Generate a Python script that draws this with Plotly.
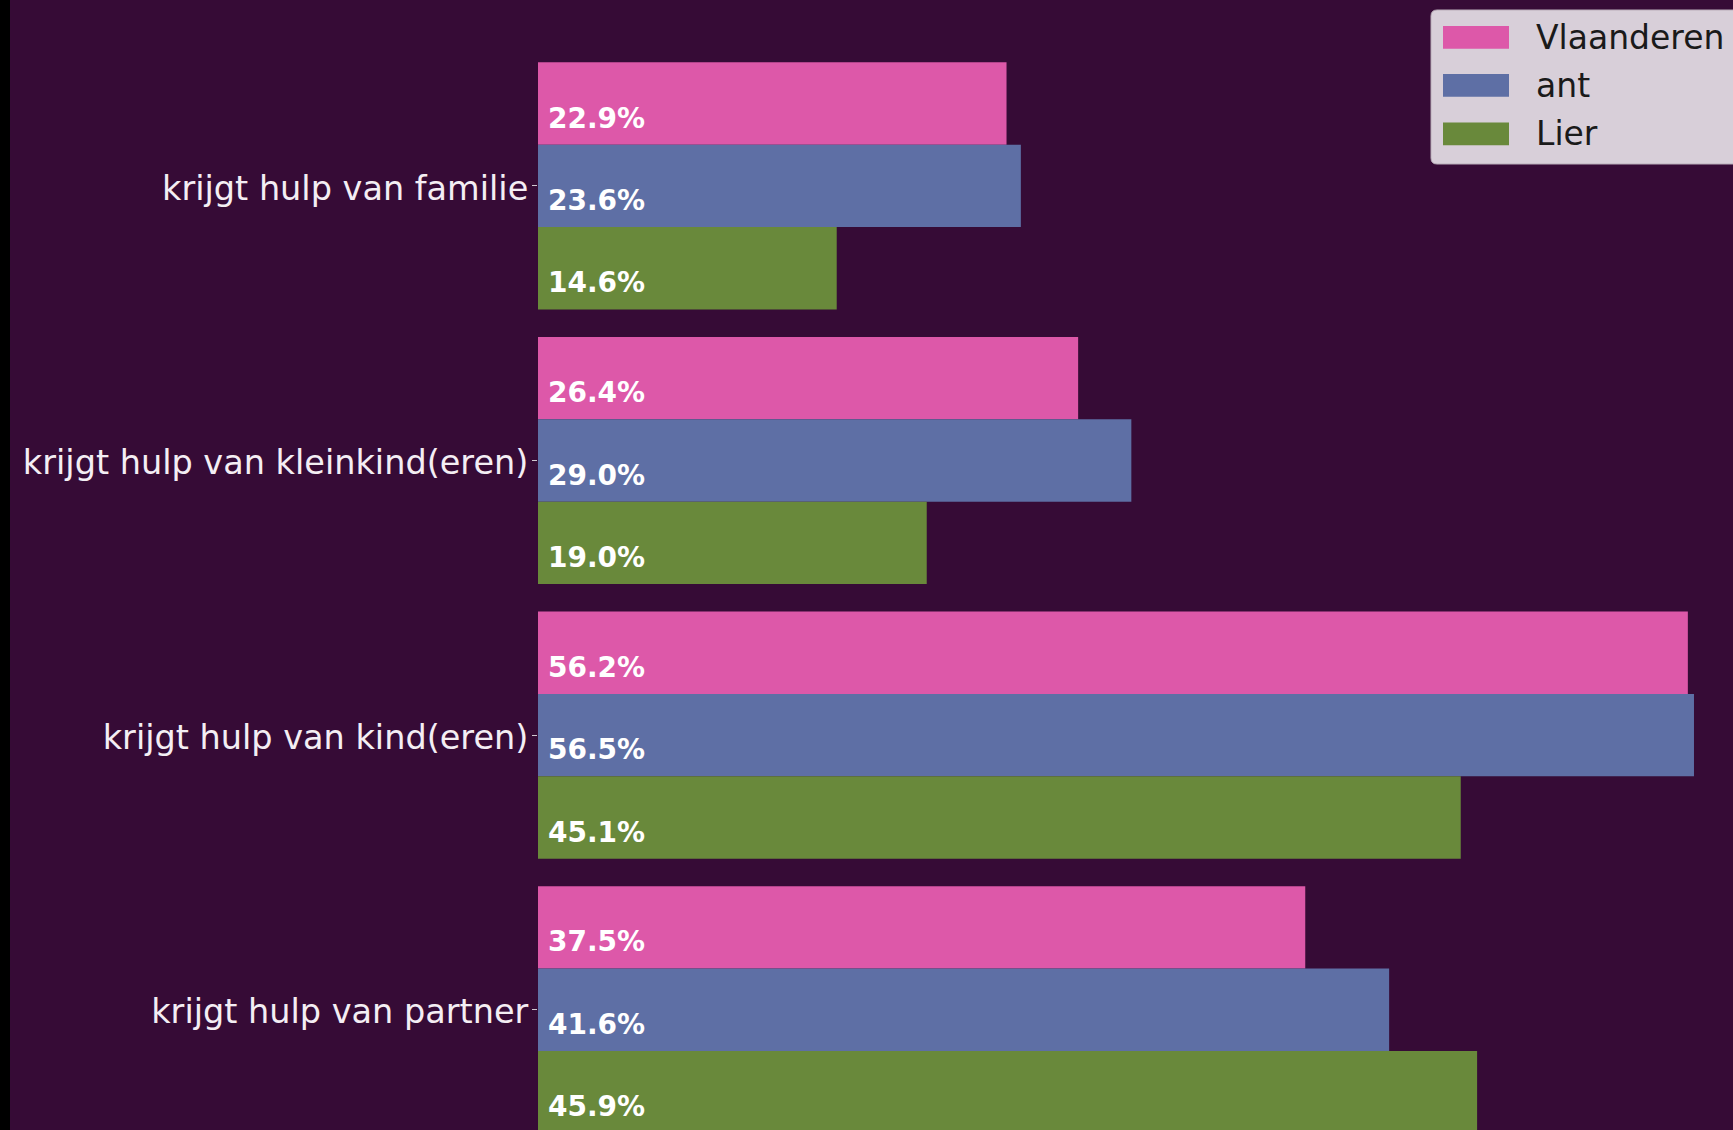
import plotly.graph_objects as go

categories = ["krijgt hulp van familie", "krijgt hulp van kleinkind(eren)",
              "krijgt hulp van kind(eren)", "krijgt hulp van partner"]
series_names = ["Vlaanderen", "ant", "Lier"]
vlaanderen = [22.9, 26.4, 56.2, 37.5]
ant = [23.6, 29.0, 56.5, 41.6]
lier = [14.6, 19.0, 45.1, 45.9]
colors = ["#dd58a9", "#5e6fa5", "#69893b"]

W, H = 1733, 1130
L = 538
BG = "#360b36"

fig = go.Figure()
for name, vals, col in zip(series_names, [vlaanderen, ant, lier], colors):
    fig.add_trace(go.Bar(y=categories, x=vals, name=name, orientation="h",
                         marker=dict(color=col, line=dict(width=0)),
                         showlegend=False, hoverinfo="x+y"))

# bar value labels
annotations = []
for k, vals in enumerate([vlaanderen, ant, lier]):
    for i, v in enumerate(vals):
        annotations.append(dict(x=0, y=i + (k - 1) * 0.3, xref="x", yref="y",
                                text=f"{v:.1f}%", showarrow=False,
                                xanchor="left", yanchor="middle",
                                xshift=8, yshift=-14.5,
                                font=dict(family="DejaVu Sans", size=28,
                                          color="white", weight="bold")))

def px(xpx):
    return (xpx - L) / (W - L)

def py(ypx):
    return 1 - ypx / H

shapes = []
# left black strip
shapes.append(dict(type="rect", xref="paper", yref="paper",
                   x0=px(-5), x1=px(10), y0=py(-5), y1=py(H + 5),
                   fillcolor="black", line=dict(width=0), layer="above"))

# custom legend box (rounded)
x0, x1, y0, y1 = 1431, 1760, 10, 164
r = 6
rx, ry = r / (W - L), r / H
X0, X1, Y0, Y1 = px(x0), px(x1), py(y0), py(y1)
path = (f"M {X0+rx},{Y0} L {X1-rx},{Y0} Q {X1},{Y0} {X1},{Y0-ry} "
        f"L {X1},{Y1+ry} Q {X1},{Y1} {X1-rx},{Y1} L {X0+rx},{Y1} "
        f"Q {X0},{Y1} {X0},{Y1+ry} L {X0},{Y0-ry} Q {X0},{Y0} {X0+rx},{Y0} Z")
shapes.append(dict(type="path", xref="paper", yref="paper", path=path,
                   fillcolor="#d8cfd9", line=dict(color="#b9aeb9", width=1),
                   layer="above"))
sw_tops = [26, 74, 122.5]
for name, col, t in zip(series_names, colors, sw_tops):
    shapes.append(dict(type="rect", xref="paper", yref="paper",
                       x0=px(1443), x1=px(1509), y0=py(t), y1=py(t + 22.7),
                       fillcolor=col, line=dict(width=0), layer="above"))
    annotations.append(dict(x=px(1534), y=py(t + 11.3), xref="paper", yref="paper",
                            text=name, showarrow=False, xanchor="left",
                            yanchor="middle", yshift=0,
                            font=dict(family="DejaVu Sans", size=33, color="#1a1a1a")))

fig.update_layout(
    width=W, height=H,
    margin=dict(l=L, r=0, t=0, b=0, pad=0, autoexpand=False),
    paper_bgcolor=BG, plot_bgcolor=BG,
    barmode="group", bargap=0.1, bargroupgap=0,
    showlegend=False,
    xaxis=dict(range=[0, (W - L) / 20.46], showgrid=False, zeroline=False,
               showticklabels=False, showline=False, ticks=""),
    yaxis=dict(type="category", range=[3.438, -0.677], showgrid=False,
               zeroline=False, showline=False, ticks="outside", ticklen=5,
               tickwidth=1, tickcolor="#d0c8d0", ticklabelstandoff=-3,
               ticklabelshift=-2,
               tickfont=dict(family="DejaVu Sans", size=33.5, color="#f4eef4"),
               automargin=False),
    shapes=shapes, annotations=annotations,
)

fig.write_html("out.html", config={"displayModeBar": False},
               post_script="document.body.style.margin='0';document.body.style.overflow='hidden';")
